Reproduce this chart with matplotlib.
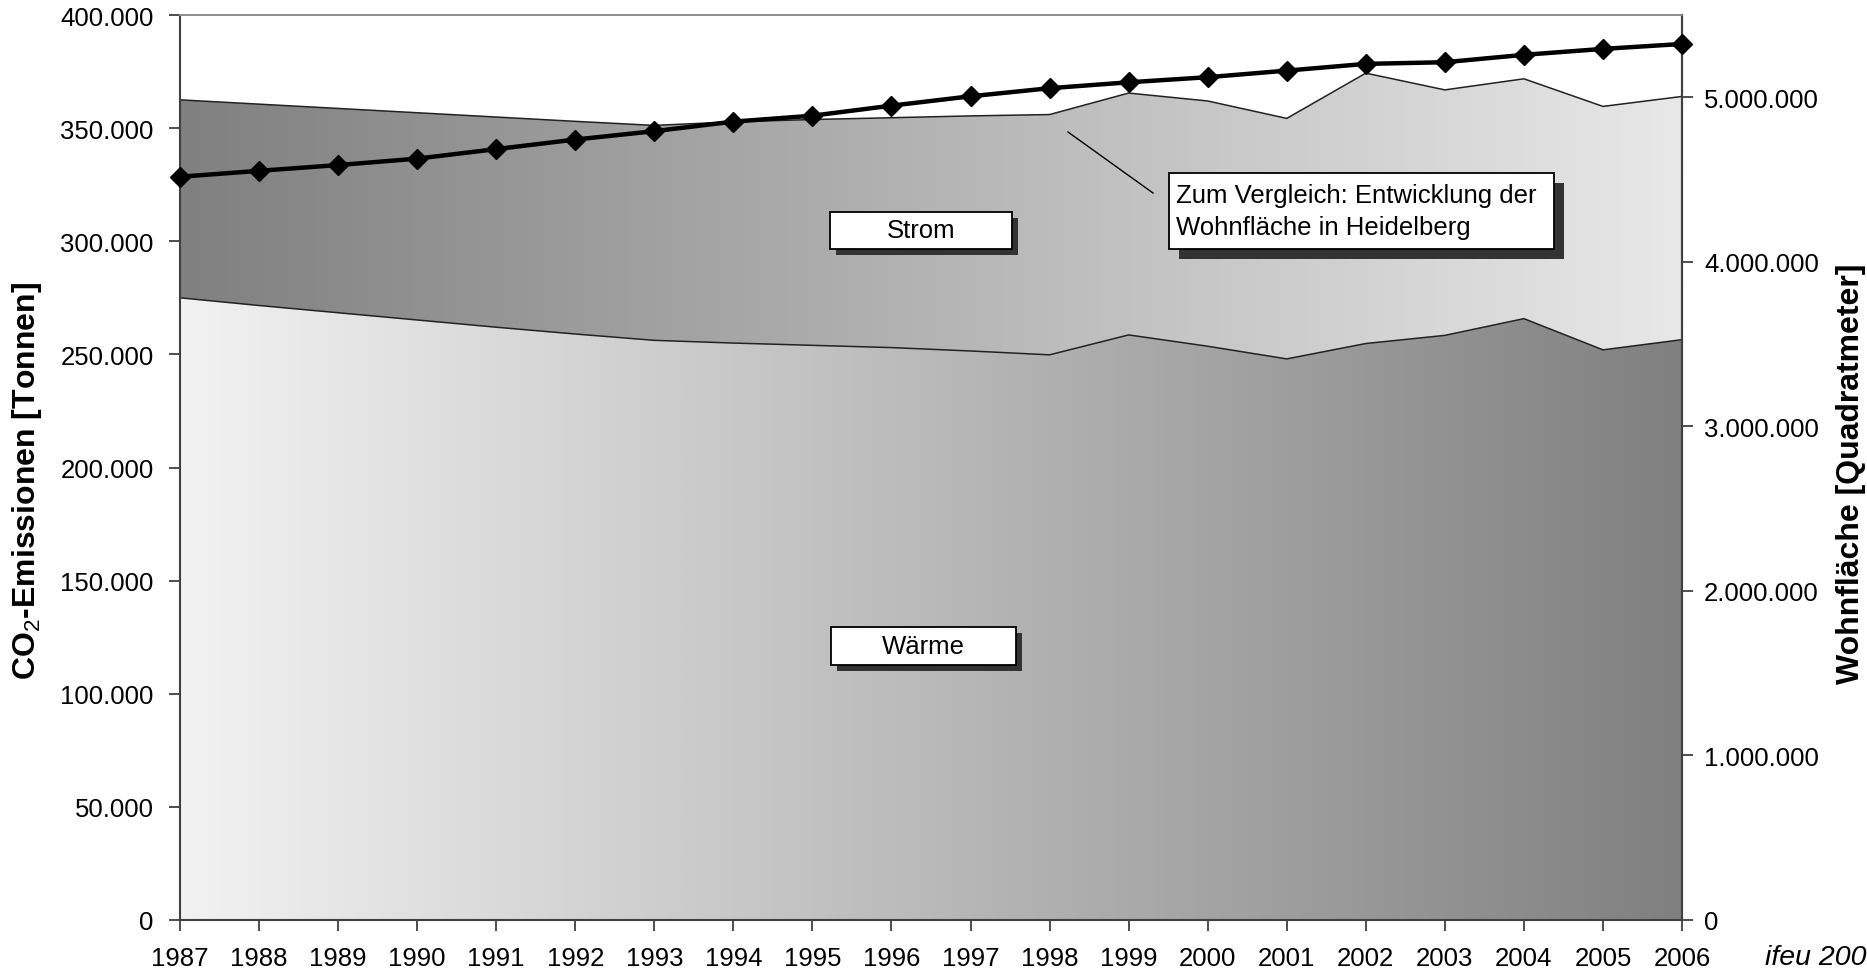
import numpy as np
import matplotlib
matplotlib.use('Agg')
import matplotlib.pyplot as plt
from matplotlib.colors import LinearSegmentedColormap
from matplotlib.patches import Rectangle
from matplotlib.lines import Line2D
from matplotlib.ticker import FuncFormatter, MultipleLocator

years = list(range(1987, 2007))
waerme = [275.0, 271.6, 268.4, 265.2, 262.0, 259.0, 256.2, 255.0, 254.0, 253.0,
          251.5, 249.8, 258.6, 253.6, 248.0, 254.8, 258.4, 265.8, 252.0, 256.5]
strom = [87.5, 89.0, 90.3, 91.6, 92.9, 94.0, 95.0, 97.8, 99.8, 101.6,
         103.9, 106.2, 106.9, 108.4, 106.3, 119.5, 108.5, 106.0, 107.6, 107.5]
wohnflaeche = [4.517, 4.553, 4.588, 4.627, 4.685, 4.743, 4.794, 4.852, 4.888, 4.949,
               5.006, 5.055, 5.091, 5.122, 5.162, 5.203, 5.213, 5.258, 5.294, 5.324]

waerme_t = np.array(waerme) * 1000
gesamt_t = waerme_t + np.array(strom) * 1000
wohn_m2 = np.array(wohnflaeche) * 1e6

plt.rcParams['font.family'] = ['Liberation Sans', 'DejaVu Sans']
plt.rcParams['mathtext.fontset'] = 'custom'
plt.rcParams['mathtext.rm'] = 'Liberation Sans'
plt.rcParams['mathtext.bf'] = 'Liberation Sans:bold'

W, H = 1867, 978
fig = plt.figure(figsize=(W / 100, H / 100), dpi=100)
L, R, T, B = 180, 1682, 16, 921
ax = fig.add_axes([L / W, 1 - B / H, (R - L) / W, (B - T) / H])

grad = np.linspace(0, 1, 512).reshape(1, -1)
cmap_w = LinearSegmentedColormap.from_list('w', ['#f2f2f2', '#808080'])
cmap_s = LinearSegmentedColormap.from_list('s', ['#808080', '#e8e8e8'])

poly_w = ax.fill_between(years, 0, waerme_t, facecolor='none', edgecolor='none')
poly_s = ax.fill_between(years, waerme_t, gesamt_t, facecolor='none', edgecolor='none')
im_w = ax.imshow(grad, extent=[years[0], years[-1], 0, 400000], aspect='auto',
                 cmap=cmap_w, zorder=1, interpolation='bilinear')
im_w.set_clip_path(poly_w.get_paths()[0], ax.transData)
im_s = ax.imshow(grad, extent=[years[0], years[-1], 0, 400000], aspect='auto',
                 cmap=cmap_s, zorder=1, interpolation='bilinear')
im_s.set_clip_path(poly_s.get_paths()[0], ax.transData)

ax.plot(years, waerme_t, color='#222222', lw=1.1, zorder=2)
ax.plot(years, gesamt_t, color='#222222', lw=1.1, zorder=2)

ax.set_xlim(years[0], years[-1])
ax.set_ylim(0, 400000)
ax.set_xticks(years)
ax.yaxis.set_major_locator(MultipleLocator(50000))
fmt = FuncFormatter(lambda v, _: f"{int(round(v)):,}".replace(',', '.'))
ax.yaxis.set_major_formatter(fmt)

ax2 = ax.twinx()
ax2.set_ylim(0, 5500000)
ax2.set_yticks([0, 1e6, 2e6, 3e6, 4e6, 5e6])
ax2.yaxis.set_major_formatter(fmt)
ax2.plot(years, wohn_m2, color='black', lw=3.2, marker='D', ms=10, mew=1,
         clip_on=False, zorder=5)

axis_col = '#404040'
for a in (ax, ax2):
    for s in ('left', 'bottom', 'right'):
        a.spines[s].set_color(axis_col)
        a.spines[s].set_linewidth(1.5)
    a.spines['top'].set_color('#8c8c8c')
    a.spines['top'].set_linewidth(1.2)
ax2.spines['left'].set_visible(False)
ax2.spines['bottom'].set_visible(False)

ax.tick_params(axis='x', direction='out', length=8, width=1.3, color=axis_col,
               labelsize=18.5, pad=11)
ax.tick_params(axis='y', direction='out', length=8, width=1.3, color=axis_col,
               labelsize=18.5, pad=11)
ax2.tick_params(axis='y', direction='out', length=8, width=1.3, color=axis_col,
                labelsize=18.5, pad=8)

fig.text(27 / W, 1 - 481 / H, r'CO$_2$-Emissionen [Tonnen]', rotation=90,
         fontsize=23, fontweight='bold', ha='center', va='center')
fig.text(1851 / W, 1 - 474 / H, 'Wohnfläche [Quadratmeter]', rotation=90,
         fontsize=23, fontweight='bold', ha='center', va='center')
fig.text(1866 / W, 1 - 958 / H, 'ifeu 200', fontsize=20.5, style='italic',
         ha='right', va='center')


def box(x0, y0, x1, y1, shadow_px, text, multiline=False):
    axw, axh = R - L, B - T
    fx0 = (x0 - L) / axw
    fx1 = (x1 - L) / axw
    fy0 = (B - y1) / axh
    fy1 = (B - y0) / axh
    dx = shadow_px / axw
    dy = shadow_px / axh
    ax2.add_patch(Rectangle((fx0 + dx, fy0 - dy), fx1 - fx0, fy1 - fy0,
                            transform=ax2.transAxes, facecolor='#333333',
                            edgecolor='none', zorder=6, clip_on=False))
    ax2.add_patch(Rectangle((fx0, fy0), fx1 - fx0, fy1 - fy0,
                            transform=ax2.transAxes, facecolor='white',
                            edgecolor='black', lw=1.3, zorder=7, clip_on=False))
    if multiline:
        ax2.text(fx0 + 7 / axw, (fy0 + fy1) / 2, text, transform=ax2.transAxes,
                 ha='left', va='center', fontsize=18.5, zorder=8, linespacing=1.45)
    else:
        ax2.text((fx0 + fx1) / 2, (fy0 + fy1) / 2, text, transform=ax2.transAxes,
                 ha='center', va='center', fontsize=18.5, zorder=8)


box(830, 213, 1012, 250, 6, 'Strom')
box(831, 628, 1016, 666, 6, 'Wärme')
box(1169, 174, 1554, 250, 10, 'Zum Vergleich: Entwicklung der\nWohnfläche in Heidelberg',
    multiline=True)

axw, axh = R - L, B - T
ax2.add_line(Line2D([(1068 - L) / axw, (1153 - L) / axw],
                    [(B - 133) / axh, (B - 194) / axh],
                    transform=ax2.transAxes, color='black', lw=1, zorder=6))

fig.savefig('out.png', dpi=100)
